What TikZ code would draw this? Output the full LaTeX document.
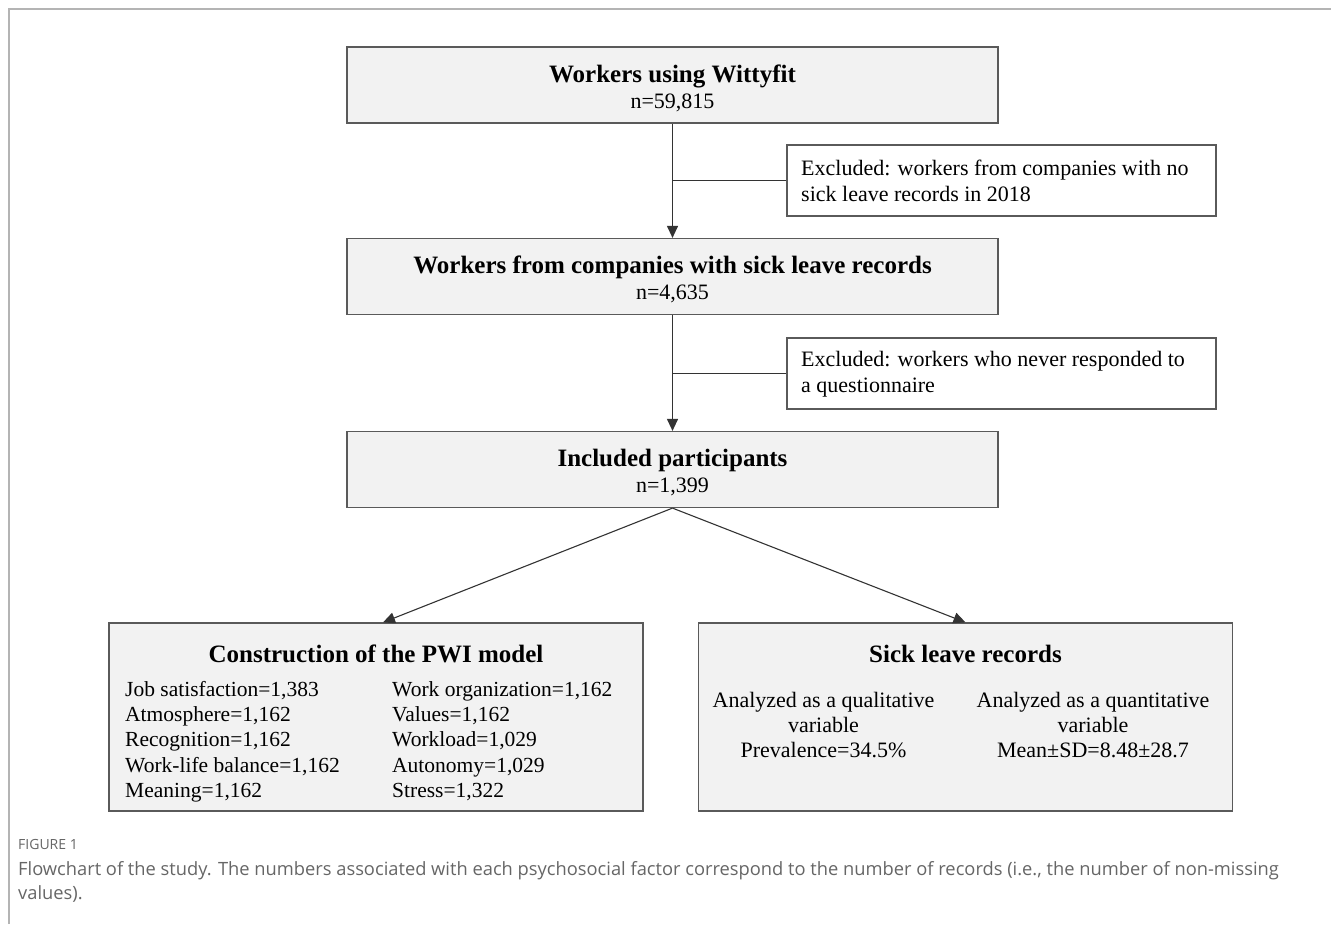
\documentclass[tikz,border=0pt]{standalone}
\usepackage{fontspec}
\setmainfont{Liberation Serif}
\newfontfamily\capfont{Open Sans}
\usetikzlibrary{arrows.meta}
\definecolor{boxfill}{HTML}{F2F2F2}
\definecolor{boxline}{HTML}{5A5A5A}
\definecolor{frameline}{HTML}{B4B4B4}
\definecolor{captext}{HTML}{666666}
\definecolor{connline}{HTML}{333333}
\begin{document}
\begin{tikzpicture}[x=1pt,y=-1pt,
  mainbox/.style={draw=boxline, fill=boxfill, line width=1.2pt, minimum width=651pt, minimum height=76pt, inner sep=0pt},
  exclbox/.style={draw=boxline, fill=white, line width=1.2pt, minimum width=429pt, minimum height=71pt, inner sep=0pt},
  bigbox/.style={draw=boxline, fill=boxfill, line width=1.2pt, minimum width=534pt, minimum height=188pt, inner sep=0pt},
  ttl/.style={font=\fontsize{25}{28}\selectfont\bfseries, anchor=base, inner sep=0pt},
  txt/.style={font=\fontsize{22}{26}\selectfont, inner sep=0pt},
  ltxt/.style={font=\fontsize{21.5}{26}\selectfont, inner sep=0pt, anchor=base west},
  conn/.style={draw=connline, line width=1.1pt},
  arr/.style={conn, -{Triangle[length=12pt,width=11pt]}},
  captxt/.style={font=\capfont\fontsize{18.3}{22}\selectfont, text=captext, anchor=base west, inner sep=0pt},
]
\useasboundingbox (0,0) rectangle (1331,924);
\fill[white] (0,0) rectangle (1331,924);
\draw[frameline, line width=2pt] (9,924) -- (9,9) -- (1331,9);

% main column
\node[mainbox] (b1) at (672.5,85) {};
\node[ttl] (b1t) at (672.5,82) {Workers using Wittyfit};
\node[txt, anchor=base] (b1n) at (672.5,108) {n=59,815};

\node[mainbox] (b2) at (672.5,276.5) {};
\node[ttl] (b2t) at (672.5,273) {Workers from companies with sick leave records};
\node[txt, anchor=base] (b2n) at (672.5,299) {n=4,635};

\node[mainbox] (b3) at (672.5,469.5) {};
\node[ttl] (b3t) at (672.5,466) {Included participants};
\node[txt, anchor=base] (b3n) at (672.5,492) {n=1,399};

% excluded boxes
\node[exclbox] (e1) at (1001.5,180.5) {};
\node[txt, anchor=west, align=left] (e1t) at (801,181) {Excluded: workers from companies with no\\sick leave records in 2018};
\node[exclbox] (e2) at (1001.5,373.5) {};
\node[txt, anchor=west, align=left] (e2t) at (801,374) {Excluded: workers who never responded to\\a questionnaire};

% bottom boxes
\node[bigbox] (b4) at (376,717) {};
\node[ttl] (b4t) at (376,662) {Construction of the PWI model};
\node[ltxt] (l1) at (125,696) {Job satisfaction=1,383};
\node[ltxt] (l2) at (125,721) {Atmosphere=1,162};
\node[ltxt] (l3) at (125,746.5) {Recognition=1,162};
\node[ltxt] (l4) at (125,772) {Work-life balance=1,162};
\node[ltxt] (l5) at (125,797) {Meaning=1,162};
\node[ltxt] (r1) at (392,696) {Work organization=1,162};
\node[ltxt] (r2) at (392,721) {Values=1,162};
\node[ltxt] (r3) at (392,746.5) {Workload=1,029};
\node[ltxt] (r4) at (392,772) {Autonomy=1,029};
\node[ltxt] (r5) at (392,797) {Stress=1,322};

\node[bigbox] (b5) at (965.5,717) {};
\node[ttl] (b5t) at (965.5,662) {Sick leave records};
\node[txt, anchor=base] (q1) at (823.5,707) {Analyzed as a qualitative};
\node[txt, anchor=base] (q2) at (823.5,732) {variable};
\node[txt, anchor=base] (q3) at (823.5,757) {Prevalence=34.5\%};
\node[txt, anchor=base] (n1) at (1093,707) {Analyzed as a quantitative};
\node[txt, anchor=base] (n2) at (1093,732) {variable};
\node[txt, anchor=base] (n3) at (1093,757) {Mean±SD=8.48±28.7};

% connectors
\draw[arr] (b1.south) -- (b2.north);
\coordinate (j1) at (b1.south |- e1.west);
\draw[conn] (j1) -- (e1.west);
\draw[arr] (b2.south) -- (b3.north);
\coordinate (j2) at (b2.south |- e2.west);
\draw[conn] (j2) -- (e2.west);
\draw[arr] (b3.south) -- ([xshift=7pt]b4.north);
\draw[arr] (b3.south) -- (b5.north);

% caption
\node[captxt, font=\capfont\fontsize{14}{16}\selectfont] (figlab) at (18,849) {FIGURE 1};
\node[captxt] (cap1) at (18,875) {Flowchart of the study. The numbers associated with each psychosocial factor correspond to the number of records (i.e., the number of non-missing};
\node[captxt] (cap2) at (18,899) {values).};
\end{tikzpicture}
\end{document}
